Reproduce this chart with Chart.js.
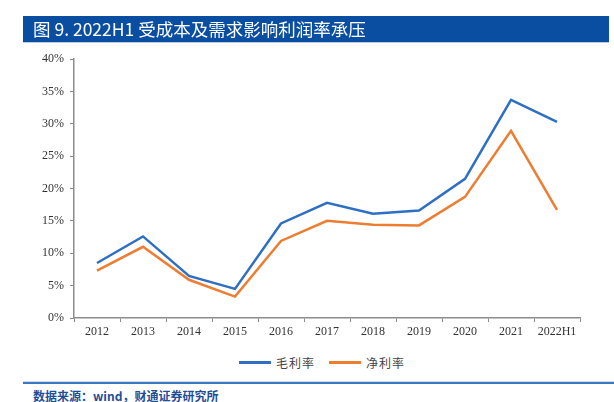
<!DOCTYPE html>
<html>
<head>
<meta charset="utf-8">
<script src="https://cdn.jsdelivr.net/npm/chart.js@4.4.1/dist/chart.umd.min.js"></script>
<style>
  html, body { margin: 0; padding: 0; background: #fff; }
  #wrap { position: relative; width: 614px; height: 402px; overflow: hidden; }
  #title {
    position: absolute; left: 23px; top: 16px; width: 586px; height: 26px;
    background: #0A4EA2; color: #fff; font-family: "Noto Sans CJK SC", "Noto Sans", sans-serif;
    font-size: 17.5px; line-height: 26px; padding-left: 10px; box-sizing: border-box;
    box-shadow: 0 1px 0 #b9cde6;
  }
  #foot-line { position: absolute; left: 23px; top: 382px; width: 591px; height: 2px; background: #3A78C4; box-shadow: 0 -1px 0 #cfdcee; }
  #foot {
    position: absolute; left: 33px; top: 388px; color: #1F4E96; font-weight: bold;
    font-family: "Noto Sans CJK SC", sans-serif; font-size: 12px; line-height: 16px;
  }
  #chartBox { position: absolute; left: 0; top: 0; width: 614px; height: 350px; }
  #legend { position: absolute; left: 239px; top: 353px; height: 18px; display: flex; align-items: center;
    font-family: "Noto Sans CJK SC", sans-serif; font-size: 12px; color: #444; letter-spacing: 1px; }
  #legend .item { display: flex; align-items: center; margin-right: 14px; }
  #legend .swatch { width: 32px; height: 3px; margin-right: 5px; }
</style>
</head>
<body>
<div id="wrap">
  <div id="chartBox"><canvas id="c"></canvas></div>
  <div id="legend"></div>
  <div id="title">图 9. 2022H1 受成本及需求影响利润率承压</div>
  <div id="foot-line"></div>
  <div id="foot">数据来源：wind，财通证券研究所</div>
</div>
<script>
// years and margins (%)
const years = ['2012', '2013', '2014', '2015', '2016', '2017', '2018', '2019', '2020', '2021', '2022H1'];
const grossMargin = [8.5, 12.6, 6.5, 4.5, 14.6, 17.8, 16.1, 16.6, 21.5, 33.7, 30.3];
const netMargin = [7.3, 11.0, 5.9, 3.3, 11.9, 15.0, 14.4, 14.3, 18.7, 28.9, 16.7];
const yTicks = [0, 5, 10, 15, 20, 25, 30, 35, 40];

const axisColor = '#8c8c8c';
const tickFont = { family: '"Liberation Serif", "DejaVu Serif", serif', size: 12 };

const chart = new Chart(document.getElementById('c'), {
  type: 'line',
  data: {
    labels: years,
    datasets: [
      { label: '毛利率', data: grossMargin, borderColor: '#2E6FC4', backgroundColor: '#2E6FC4', borderWidth: 2.5, pointRadius: 0, tension: 0 },
      { label: '净利率', data: netMargin, borderColor: '#ED7D31', backgroundColor: '#ED7D31', borderWidth: 2.5, pointRadius: 0, tension: 0 }
    ]
  },
  options: {
    responsive: true,
    maintainAspectRatio: false,
    animation: false,
    layout: { padding: { top: 59, right: 34, left: 0, bottom: 2 } },
    plugins: {
      tooltip: { enabled: false },
      legend: { display: false }
    },
    scales: {
      x: {
        offset: true,
        grid: { offset: true, drawOnChartArea: false, drawTicks: true, tickLength: 4, color: axisColor },
        border: { color: axisColor, width: 1.5 },
        ticks: { color: '#333', font: tickFont, padding: 3, maxRotation: 0, autoSkip: false },
        afterFit: (s) => { s.height = 30; }
      },
      y: {
        min: 0, max: 40,
        afterBuildTicks: (s) => { s.ticks = yTicks.map(v => ({ value: v })); },
        grid: { drawOnChartArea: false, drawTicks: true, tickLength: 4, color: axisColor },
        border: { color: axisColor, width: 1.5 },
        ticks: { color: '#333', font: tickFont, padding: 6, callback: (v) => v + '%' },
        afterFit: (s) => { s.width = 74; }
      }
    }
  }
});

// legend built from the chart's datasets
const legendEl = document.getElementById('legend');
chart.data.datasets.forEach(ds => {
  const item = document.createElement('div');
  item.className = 'item';
  const sw = document.createElement('span');
  sw.className = 'swatch';
  sw.style.background = ds.borderColor;
  const tx = document.createElement('span');
  tx.textContent = ds.label;
  item.appendChild(sw);
  item.appendChild(tx);
  legendEl.appendChild(item);
});
</script>
</body>
</html>
